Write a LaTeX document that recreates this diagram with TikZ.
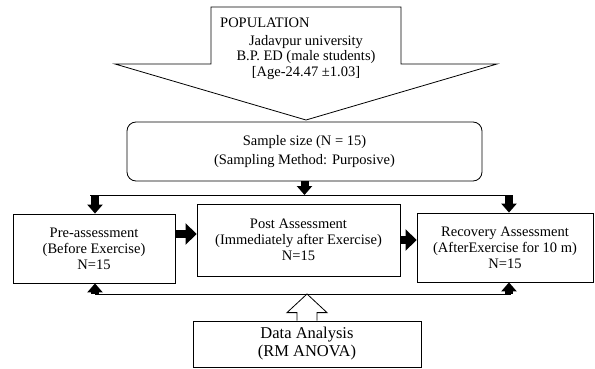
\documentclass[tikz,border=0pt]{standalone}
\usepackage{fontspec}
\setmainfont{Liberation Serif}
\usetikzlibrary{arrows.meta,calc}

\begin{document}
\begin{tikzpicture}[
  x=1pt, y=-1pt,
  box/.style={draw, line width=0.8pt, align=center, font=\fontsize{14.5}{16}\selectfont},
  thinline/.style={line width=0.8pt},
  bigarrow/.style={line width=8pt, -{Triangle[width=21pt,length=11pt]}},
  smallarrow/.style={line width=8pt, -{Triangle[width=15pt,length=9pt]}},
]
  \useasboundingbox (0,0) rectangle (595,369);

  % population callout
  \draw[thinline] (211,7) -- (401,7) -- (401,64) -- (497,64) -- (306,120)
    -- (115,64) -- (211,64) -- cycle;
  \node[font=\fontsize{14.5}{16}\selectfont, anchor=west, inner sep=1pt] (pop) at (219,23) {POPULATION};
  \node[font=\fontsize{14.5}{15.5}\selectfont, align=center, inner sep=1pt] (popinfo) at (306,57.5)
    {Jadavpur university\\ B.P. ED (male students)\\ {[Age-24.47 ±1.03]}};

  % sample
  \node[box, rounded corners=9pt, minimum width=355pt, minimum height=59pt,
    font=\fontsize{14.5}{19}\selectfont] (sample) at (304.5,151.5)
    {Sample size (N = 15)\\ (Sampling Method: Purposive)};

  % three assessments
  \node[box, minimum width=162pt, minimum height=69pt] (pre) at (94,248.5)
    {Pre-assessment\\ (Before Exercise)\\ N=15};
  \node[box, minimum width=203pt, minimum height=72pt] (post) at (298.5,240)
    {Post Assessment\\ (Immediately after Exercise)\\ N=15};
  \node[box, minimum width=176pt, minimum height=69pt] (rec) at (505,247.5)
    {Recovery Assessment\\ (AfterExercise for 10 m)\\ N=15};

  % analysis
  \node[box, minimum width=228pt, minimum height=46pt,
    font=\fontsize{16.5}{18}\selectfont] (data) at (307,344)
    {Data Analysis\\ (RM ANOVA)};

  % distribution lines
  \coordinate (tl) at (90,195);
  \coordinate (tr) at (511,195);
  \coordinate (bl) at (95,294);
  \coordinate (br) at (511,294);
  \draw[thinline] (tl) -- (tr);
  \draw[thinline] (bl) -- (br);

  \draw[smallarrow] (sample.south) -- (sample.south |- tl);
  \draw[smallarrow] (95,195) -- (95,195 |- pre.north);
  \draw[smallarrow] (509,195) -- (509,195 |- rec.north);
  \draw[smallarrow] (bl) -- (bl |- pre.south);
  \draw[smallarrow] (509,294) -- (509,294 |- rec.south);

  \coordinate (mid) at (0,234);
  \draw[bigarrow] (pre.east |- mid) -- (post.west |- mid);
  \draw[bigarrow] (post.east) -- (rec.west |- post.east);

  % hollow arrow up
  \draw[thinline, fill=white] ($(data.north)+(-10,0)$) -- ++(0,-8) -- ++(-10,0)
    -- (data.north |- bl) -- ($(data.north)+(20,-8)$) -- ++(-10,0) -- ++(0,8);
\end{tikzpicture}
\end{document}
